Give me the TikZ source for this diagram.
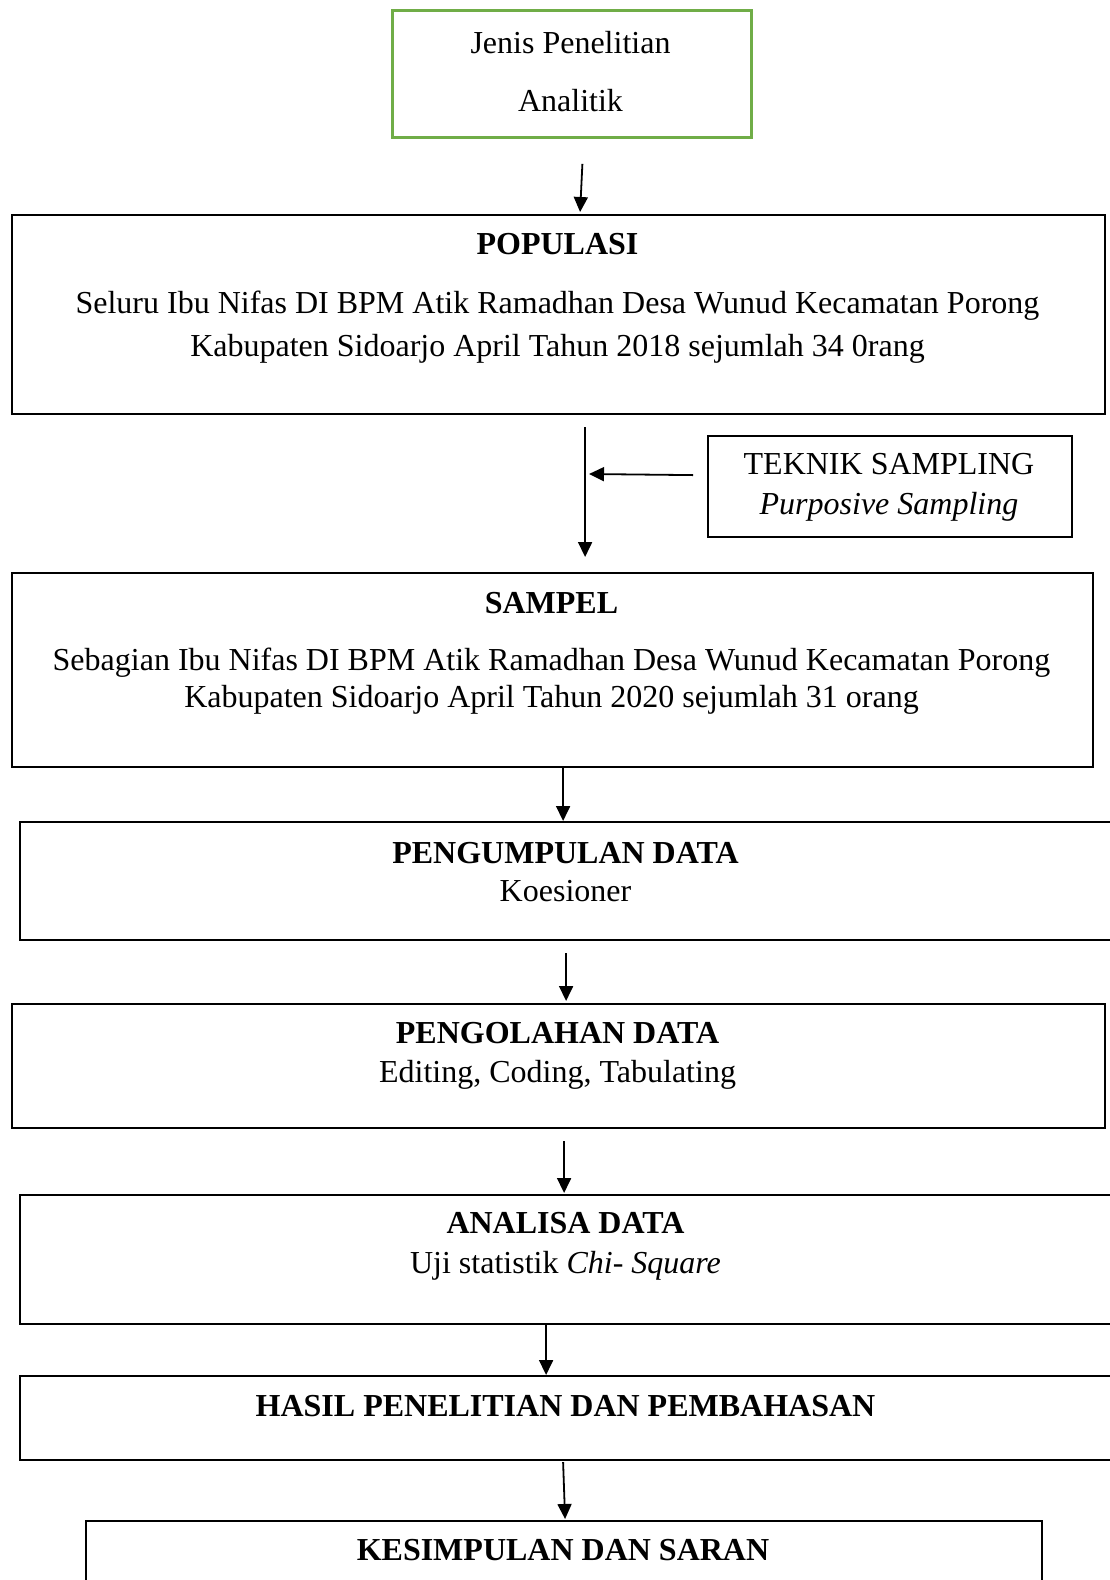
\documentclass[tikz,border=0pt]{standalone}
\usepackage{fontspec}
\setmainfont{Liberation Serif}
\usetikzlibrary{arrows.meta,positioning}
\definecolor{boxgreen}{RGB}{112,173,71}

\begin{document}
\begin{tikzpicture}[x=1pt,y=-1pt,
  box/.style={draw,line width=2.2pt,rectangle,inner sep=0pt,anchor=north west},
  txt/.style={align=center,inner sep=0pt,font=\fontsize{32}{38}\selectfont},
  arr/.style={line width=1.8pt,-{Triangle[length=15pt,width=14pt]}}]

  \useasboundingbox (0,0) rectangle (1109,1580);

  % boxes
  \node[box,draw=boxgreen,line width=2.8pt,minimum width=359pt,minimum height=127pt] (jenis) at (391,9) {};
  \node[box,minimum width=1093pt,minimum height=199pt] (populasi) at (11,214) {};
  \node[box,minimum width=364pt,minimum height=101pt] (teknik) at (707,435) {};
  \node[box,minimum width=1081pt,minimum height=194pt] (sampel) at (11,572) {};
  \node[box,minimum width=1093pt,minimum height=118pt] (kumpul) at (19,821) {};
  \node[box,minimum width=1093pt,minimum height=124pt] (olah) at (11,1003) {};
  \node[box,minimum width=1093pt,minimum height=129pt] (analisa) at (19,1194) {};
  \node[box,minimum width=1093pt,minimum height=84pt] (hasil) at (19,1375) {};
  \node[box,minimum width=956pt,minimum height=110pt] (simpul) at (85,1520) {};

  % texts
  \node[txt] (jenis-txt) at (570.5,72) {Jenis Penelitian\\[20pt] Analitik};
  \node[txt] (populasi-txt) at (557.5,298) {\textbf{POPULASI}\\[21pt]
    Seluru Ibu Nifas DI BPM Atik Ramadhan Desa Wunud Kecamatan Porong\\[5pt]
    Kabupaten Sidoarjo April Tahun 2018 sejumlah 34 0rang};
  \node[txt] (teknik-txt) at (889,487) {TEKNIK SAMPLING\\[2pt] \textit{Purposive Sampling}};
  \node[txt] (sampel-txt) at (551.5,653) {\textbf{SAMPEL}\\[19pt]
    Sebagian Ibu Nifas DI BPM Atik Ramadhan Desa Wunud Kecamatan Porong\\[-1pt]
    Kabupaten Sidoarjo April Tahun 2020 sejumlah 31 orang};
  \node[txt] (kumpul-txt) at (565.5,872) {\textbf{PENGUMPULAN DATA}\\ Koesioner};
  \node[txt] (olah-txt) at (557.5,1056) {\textbf{PENGOLAHAN DATA}\\[1pt] Editing, Coding, Tabulating};
  \node[txt] (analisa-txt) at (565.5,1246) {\textbf{ANALISA DATA}\\[2pt] Uji statistik \textit{Chi- Square}};
  \node[txt] (hasil-txt) at (565.5,1406) {\textbf{HASIL PENELITIAN DAN PEMBAHASAN}};
  \node[txt] (simpul-txt) at (563,1550) {\textbf{KESIMPULAN DAN SARAN}};

  \coordinate (tsjoin) at (589,474);

  % arrows
  \draw[arr] ([xshift=10.5pt,yshift=-25pt]jenis.south) -- ([xshift=21.5pt,yshift=2pt]populasi.north);
  \draw[arr] ([xshift=26.5pt,yshift=-12pt]populasi.south) -- ([xshift=32.5pt,yshift=15pt]sampel.north);
  \draw[arr] ([xshift=-14pt,yshift=11.5pt]teknik.west) -- (tsjoin);
  \draw[arr] ([xshift=10.5pt]sampel.south) -- ([xshift=-3.5pt]kumpul.north);
  \draw[arr] ([xshift=-0.5pt,yshift=-12pt]kumpul.south) -- ([xshift=7.5pt,yshift=2pt]olah.north);
  \draw[arr] ([xshift=5.5pt,yshift=-12pt]olah.south) -- ([xshift=-2.5pt,yshift=1pt]analisa.north);
  \draw[arr] ([xshift=-20.5pt]analisa.south) -- ([xshift=-20.5pt]hasil.north);
  \draw[arr] ([xshift=-3.5pt,yshift=-1pt]hasil.south) -- ([xshift=1pt,yshift=1pt]simpul.north);
\end{tikzpicture}
\end{document}
